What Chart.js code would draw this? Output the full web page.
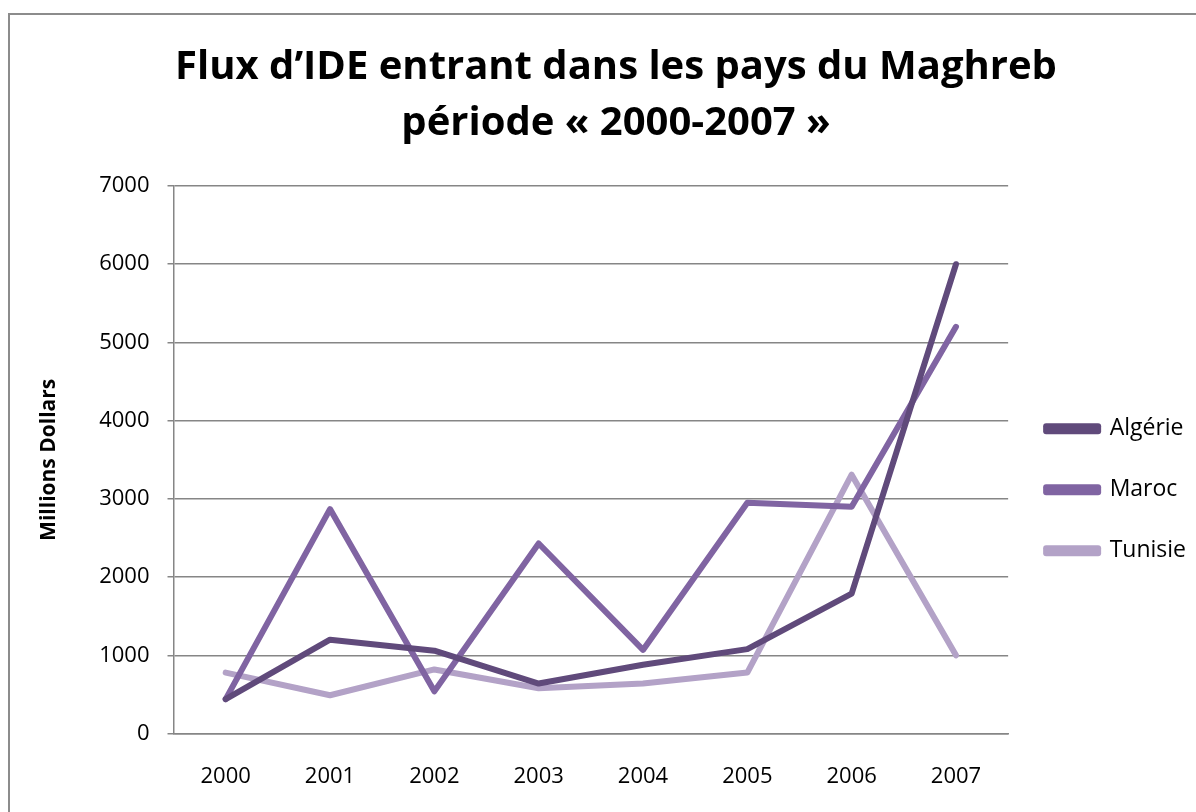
<!DOCTYPE html>
<html>
<head>
<meta charset="utf-8">
<script src="https://cdn.jsdelivr.net/npm/chart.js@4"></script>
<style>
  html, body { margin: 0; padding: 0; background: #fff; }
  body { width: 1196px; height: 812px; overflow: hidden; position: relative; }
  .frame { position: absolute; left: 8px; top: 13px; width: 1200px; height: 820px; border: 2px solid #8c8c8c; box-sizing: border-box; }
  .wrap { position: absolute; left: 0; top: 0; width: 1196px; height: 812px; }
</style>
</head>
<body>
<div class="frame"></div>
<div class="wrap"><canvas id="myChart"></canvas></div>
<script>
const years = ["2000", "2001", "2002", "2003", "2004", "2005", "2006", "2007"];
const algerie = [440, 1200, 1060, 640, 880, 1080, 1790, 6000];
const maroc = [440, 2870, 540, 2430, 1070, 2950, 2900, 5200];
const tunisie = [780, 490, 820, 580, 640, 780, 3310, 1000];

const ctx = document.getElementById("myChart");
Chart.defaults.font.family = "'Open Sans', sans-serif";
Chart.defaults.color = "#000";

new Chart(ctx, {
  type: "line",
  data: {
    labels: years,
    datasets: [
      { label: "Algérie", data: algerie, borderColor: "#604a7b", backgroundColor: "#604a7b" },
      { label: "Maroc", data: maroc, borderColor: "#8064a2", backgroundColor: "#8064a2" },
      { label: "Tunisie", data: tunisie, borderColor: "#b3a2c7", backgroundColor: "#b3a2c7" },
    ],
  },
  options: {
    responsive: true,
    maintainAspectRatio: false,
    animation: false,
    elements: {
      line: { borderWidth: 6, tension: 0, borderCapStyle: "round", borderJoinStyle: "round" },
      point: { radius: 0, hoverRadius: 0 },
    },
    layout: { padding: { left: 36, right: 0, top: 40, bottom: 0 } },
    plugins: {
      tooltip: { enabled: false },
      title: {
        display: true,
        text: ["Flux d’IDE entrant dans les pays du Maghreb", "période « 2000-2007 »"],
        font: { size: 40, weight: "bold", lineHeight: 1.4 },
        padding: { top: 0, bottom: 34 },
      },
      legend: {
        position: "right",
        fullSize: false,
        title: { display: true, text: " ", font: { size: 10 }, padding: { top: 24, bottom: 24 } },
        labels: {
          boxWidth: 52,
          boxHeight: 5,
          padding: 38,
          font: { size: 23, lineHeight: 0.6 },
        },
      },
    },
    scales: {
      y: {
        min: 0,
        max: 7000,
        ticks: { stepSize: 1000, font: { size: 22 }, padding: 18, callback: (v) => String(v) },
        grid: { color: "#868686", lineWidth: 1.5, tickLength: 6 },
        border: { color: "#868686", width: 1.5 },
        title: { display: true, text: "Millions Dollars", font: { size: 21, weight: "bold" }, padding: { top: 0, bottom: 20 } },
      },
      x: {
        offset: true,
        ticks: { font: { size: 22 }, padding: 22 },
        grid: { display: false },
        border: { color: "#868686", width: 1.5 },
      },
    },
  },
});
</script>
</body>
</html>
